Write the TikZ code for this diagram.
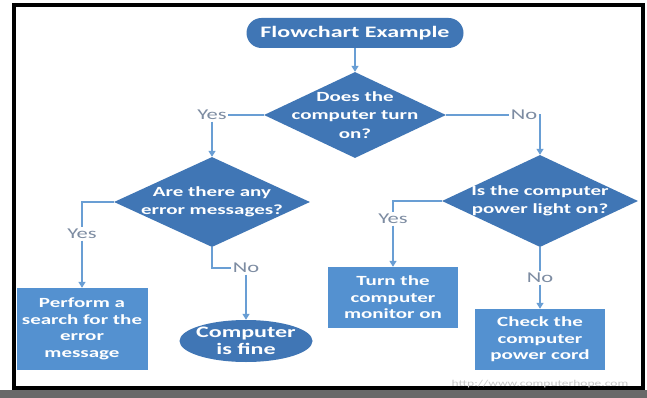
\documentclass[tikz,border=0pt]{standalone}
\usepackage{fontspec}
\newfontfamily\chartfont{Carlito}[FakeStretch=1.5]
\usetikzlibrary{arrows.meta,shapes.geometric}
\definecolor{shapeblue}{RGB}{64,118,181}
\definecolor{boxblue}{RGB}{84,145,208}
\definecolor{lineblue}{RGB}{105,158,212}
\definecolor{labelgray}{RGB}{125,140,162}
\begin{document}
\begin{tikzpicture}[x=1pt,y=-1pt,
  terminal/.style={rectangle,rounded corners=15pt,fill=shapeblue,text=white,inner sep=0pt,
    font=\chartfont\bfseries\fontsize{16}{18}\selectfont},
  decision/.style={diamond,fill=shapeblue,text=white,inner sep=-25pt,align=center,
    font=\chartfont\bfseries\fontsize{14}{18.5}\selectfont},
  stopnode/.style={ellipse,fill=shapeblue,text=white,inner sep=-6pt,align=center,
    font=\chartfont\bfseries\fontsize{16}{16.5}\selectfont},
  process/.style={rectangle,fill=boxblue,text=white,inner sep=0pt,align=center,
    minimum width=130pt,font=\chartfont\bfseries\fontsize{14}{16.5}\selectfont},
  answer/.style={inner sep=1.5pt,text=labelgray,font=\chartfont\fontsize{15}{17}\selectfont},
  link/.style={draw=lineblue,line width=1.3pt},
  flow/.style={link,-{Triangle[length=6pt,width=7pt]}}]
\path[use as bounding box] (0,0) rectangle (647,398);
\path[fill=white] (0,0) rectangle (647,398);
% frame of the screenshot
\path[fill={rgb,255:red,105;green,105;blue,105}] (0,390) rectangle (647,398);
\draw[line width=3.5pt] (14,5) rectangle (643,388);
\draw[line width=4.5pt] (14,3) -- (14,390);

% shapes
\node[terminal,minimum width=217pt,minimum height=30pt] (start) at (355,33) {Flowchart Example};
\node[decision,minimum width=182pt,minimum height=86pt] (turnon) at (355,115) {Does the\\computer turn\\on?};
\node[decision,minimum width=196pt,minimum height=90pt] (errors) at (212,202) {Are there any\\error messages?};
\node[decision,minimum width=196pt,minimum height=92pt] (powerlight) at (540,201) {Is the computer\\power light on?};
\node[process,minimum width=131pt,minimum height=82pt] (search) at (82,329) {Perform a\\search for the\\error\\message};
\node[stopnode,minimum width=133pt,minimum height=42pt] (fine) at (246,341) {Computer\\is fine};
\node[process,minimum height=61pt] (monitor) at (393,297.5) {Turn the\\computer\\monitor on};
\node[process,minimum height=61pt] (cord) at (540,339.5) {Check the\\computer\\power cord};

% yes / no labels
\node[answer] (yesA) at (212,115) {Yes};
\node[answer] (noA) at (524,115) {No};
\node[answer] (yesB) at (82,234) {Yes};
\node[answer] (noB) at (246,268) {No};
\node[answer] (yesC) at (393,219) {Yes};
\node[answer] (noC) at (540,278) {No};

% connectors
\draw[flow] (start) -- (turnon);
\draw[link] (turnon.west) -- (yesA.east);
\draw[flow] (yesA) -- (errors);
\draw[link] (turnon.east) -- (noA.west);
\draw[flow] (noA.east) -| (powerlight.north);
\draw[link] (errors.west) -| (yesB.north);
\draw[flow] (yesB) -- (search);
\draw[link] (errors.south) |- (noB.west);
\draw[flow] (noB) -- (fine);
\draw[link] (powerlight.west) -| (yesC.north);
\draw[flow] (yesC) -- (monitor);
\draw[link] (powerlight.south) -- (noC.north);
\draw[flow] (noC) -- (cord);

\node[text={rgb,255:red,200;green,200;blue,200},font=\chartfont\fontsize{9}{10}\selectfont] (source) at (540,384) {http://www.computerhope.com};
\end{tikzpicture}
\end{document}
